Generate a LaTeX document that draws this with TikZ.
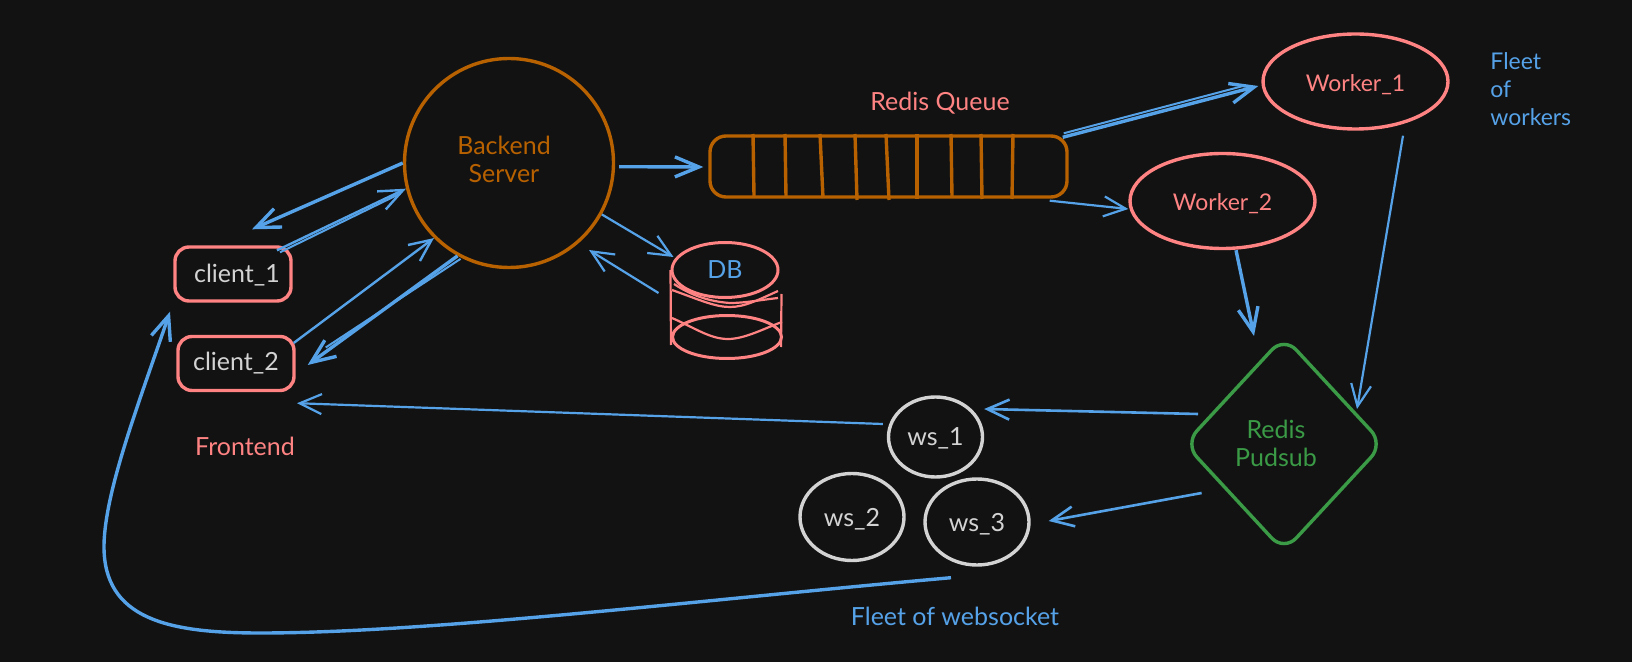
\documentclass[tikz,border=0pt]{standalone}
\usepackage{fontspec}
\setmainfont{Lato}
\usetikzlibrary{arrows.meta,shapes.geometric}
\definecolor{bgc}{HTML}{121212}
\definecolor{bluec}{HTML}{56A2E8}
\definecolor{redc}{HTML}{FF8383}
\definecolor{orangec}{HTML}{B76100}
\definecolor{greenc}{HTML}{3A9A46}
\definecolor{whitec}{HTML}{D3D3D3}
\newcommand{\lowertext}[2]{\raisebox{-#1}[8pt][2pt]{#2}}
\tikzset{
  txt/.style={font=\fontsize{12.5}{14}\selectfont,inner sep=0pt,align=center},
  smalltxt/.style={font=\fontsize{11.5}{14}\selectfont,inner sep=0pt,align=center},
  clientbox/.style={draw=redc,line width=1.7pt,rounded corners=7pt,minimum width=58pt,minimum height=27pt,inner sep=0pt,text=whitec,txt},
  wsnode/.style={ellipse,draw=whitec,line width=1.7pt,inner sep=0pt,text=whitec,txt},
  workernode/.style={ellipse,draw=redc,line width=1.7pt,minimum width=92.5pt,minimum height=47.5pt,inner sep=0pt,text=redc,smalltxt},
  arrowthin/.style={draw=bluec,line width=1.1pt,-{Straight Barb[length=11pt,width=10pt]}},
  arrowthick/.style={draw=bluec,line width=1.7pt,-{Straight Barb[length=12pt,width=10pt]}},
  dbline/.style={draw=redc,line width=1.1pt},
  cellmark/.style={draw=orangec,line width=1.7pt},
  strokeextra/.style={draw=bluec,line width=1pt},
}
\begin{document}
\begin{tikzpicture}[x=0.5pt,y=-0.5pt]
\useasboundingbox (0,0) rectangle (1632,662);
\fill[bgc] (0,0) rectangle (1632,662);
% nodes
\node[circle,draw=orangec,line width=1.7pt,minimum size=104.5pt,inner sep=0pt,text=orangec,txt] (backend) at (509,163) {};
\node[txt,text=orangec,anchor=center] (backendlabel) at (504,159) {Backend\\Server};
\node[clientbox] (client1) at (233,274) {\hspace*{4pt}\lowertext{1.2pt}{client\_1}};
\node[clientbox] (client2) at (236,363.5) {\lowertext{0.3pt}{client\_2}};
\node[txt,text=redc] (frontend) at (245,446) {Frontend};
\node[draw=orangec,line width=1.7pt,rounded corners=8pt,minimum width=178.5pt,minimum height=30.5pt,inner sep=0pt] (queue) at (888.5,166.5) {};
\node[txt,text=redc] (queuelabel) at (940,103) {Redis Queue};
\node[workernode] (worker1) at (1355.5,81.5) {\lowertext{2pt}{Worker\_1}};
\node[workernode] (worker2) at (1222.5,201) {\lowertext{2pt}{Worker\_2}};
\node[smalltxt,text=bluec,align=left,anchor=north west] (fleetw) at (1490,52) {Fleet\\of\\workers};
\node[diamond,draw=greenc,line width=1.7pt,rounded corners=9pt,minimum width=100pt,minimum height=108pt,inner sep=0pt] (redis) at (1284,444) {};
\node[txt,text=greenc] (redislabel) at (1276,443) {Redis\\Pudsub};
\node[wsnode,minimum width=47pt,minimum height=40pt] (ws1) at (935.5,437) {\lowertext{1.2pt}{ws\_1}};
\node[wsnode,minimum width=52pt,minimum height=43.5pt] (ws2) at (852,517) {\lowertext{1.5pt}{ws\_2}};
\node[wsnode,minimum width=52pt,minimum height=43pt] (ws3) at (977,522) {\lowertext{1.5pt}{ws\_3}};
\node[txt,text=bluec] (fleetws) at (955,616) {Fleet of websocket};
% queue cells
\foreach \a/\b/\c in {753/754/107,785/786/108,820/823/109,855/857/111,886/889/111,917/917/110,951/952/108,981/982/110,1013/1012/110}
  \draw[cellmark] (\a,134) -- (\b,198+\c-109);
% database
\node[ellipse,draw=redc,line width=1.5pt,minimum width=53pt,minimum height=27.5pt,inner sep=0pt,text=bluec,txt] (db) at (725,270) {DB};
\node[ellipse,draw=redc,line width=1.5pt,minimum width=54.5pt,minimum height=21.5pt,inner sep=0pt] (dbbase) at (727,337) {};
\draw[dbline] (db.west) -- ([yshift=-4pt]dbbase.west);
\draw[dbline] ([xshift=1pt,yshift=-12pt]db.east) -- ([xshift=-1pt,yshift=-5pt]dbbase.east);
\draw[dbline] (672,290) .. controls (700,300) and (715,307) .. (730,307) .. controls (745,307) and (760,299) .. (778,291);
\draw[dbline] (674,284) .. controls (695,298) and (715,302) .. (730,303) .. controls (745,303) and (760,300) .. (778,298);
\draw[dbline] (672,318) .. controls (695,328) and (710,339) .. (728,339) .. controls (745,339) and (765,328) .. (782,322);
% connectors
\draw[arrowthick] (backend.180) -- ([shift={(19,-16)}]client1.north);
\draw[arrowthick,line width=1.2pt] ([shift={(44,5)}]client1.north) -- (backend.194);
\draw[strokeextra] ([shift={(47,7)}]client1.north) -- ([shift={(-6,5)}]backend.194);
\draw[arrowthin,line width=1.2pt] ([shift={(-2,-20.5)}]client2.east) -- (backend.225);
\draw[arrowthick] (backend.241) -- ([shift={(12,1.5)}]client2.east);
\draw[strokeextra] ([shift={(3,3)}]backend.241) -- ([shift={(30,-16)}]client2.east);
\draw[arrowthin] ([shift={(-4,-13)}]ws1.west) -- ([shift={(61,11)}]client2.south);
\draw[arrowthick] ([shift={(4,0)}]backend.-2) -- ([shift={(-5,0.5)}]queue.west);
\draw[arrowthick] ([shift={(-6,3)}]queue.north east) -- ([shift={(-3,4.5)}]worker1.west);
\draw[strokeextra] ([shift={(-5,-1)}]queue.north east) -- ([shift={(-20,5)}]worker1.west);
\draw[arrowthin] ([shift={(-19,2)}]queue.south east) -- ([shift={(0,8)}]worker2.west);
\draw[arrowthin] ([shift={(47.5,5)}]worker1.south) -- ([shift={(73,-35)}]redis.center);
\draw[arrowthick] ([shift={(13.5,0)}]worker2.south) -- ([shift={(-30,-108)}]redis.center);
\draw[arrowthin,line width=1.3pt] ([shift={(-86,-30)}]redis.center) -- ([shift={(0,-28)}]ws1.east);
\draw[arrowthin,line width=1.3pt] ([shift={(-82.4,49)}]redis.center) -- ([shift={(18,-1)}]ws3.east);
\draw[arrowthin] (backend.-29) -- ([shift={(3,-13)}]db.west);
\draw[arrowthin] ([shift={(-12,23)}]db.west) -- ([shift={(80,87)}]backend.center);
\draw[arrowthick] ([shift={(-26,11)}]ws3.south) .. controls (700,600) and (430,633) .. (260,633) .. controls (170,633) and (103,620) .. (104,545) .. controls (105,490) and (140,400) .. ([shift={(-63,9)}]client1.south);
\end{tikzpicture}
\end{document}
